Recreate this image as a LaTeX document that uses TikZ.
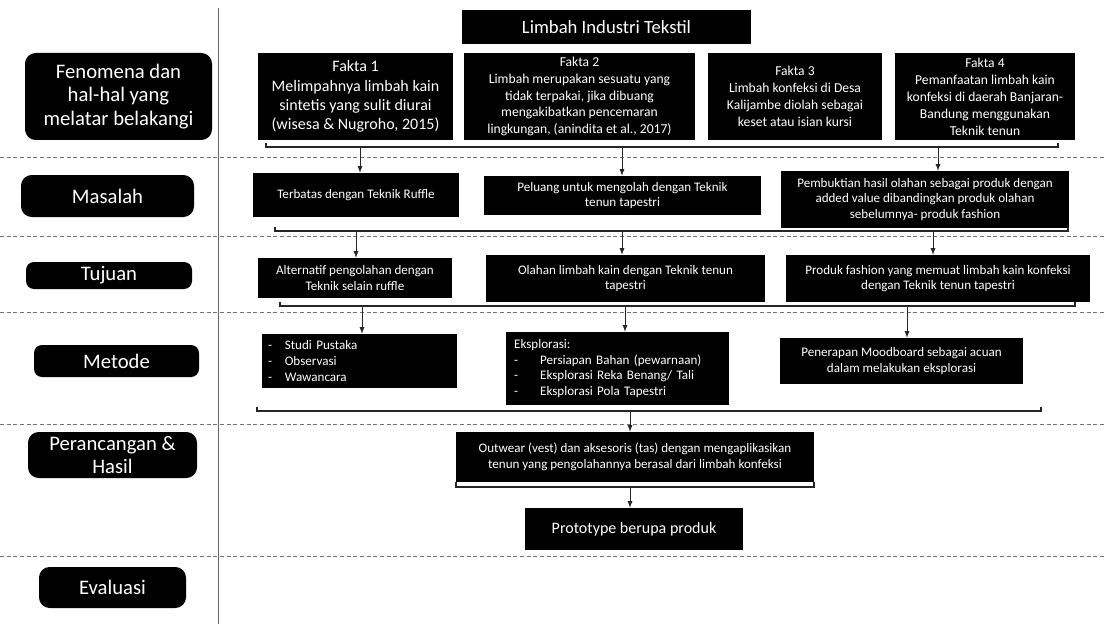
\documentclass[tikz,border=0pt]{standalone}
\usepackage{fontspec}
\setmainfont{Carlito}
\usetikzlibrary{calc}

\tikzset{
	kotak/.style={fill=black, text=white, align=center, inner sep=0pt},
	kiri/.style={kotak, rounded corners=8pt, font=\fontsize{15.5}{17.5}\selectfont},
	ukuran/.style 2 args={minimum width=#1*0.75pt, minimum height=#2*0.75pt},
	isi/.style={font=\fontsize{9.8}{11.8}\selectfont},
	fakta/.style={font=\fontsize{10.2}{12.7}\selectfont},
	putus/.style={black!55, dash pattern=on 3pt off 2pt, line width=0.5pt},
	kurung/.style={line width=1.1pt, black!85},
	panah/.style={-latex, line width=0.7pt, black!85},
}
\newcommand{\strip}[1]{\makebox[#1][l]{-}}

\begin{document}
\begin{tikzpicture}[x=0.75pt, y=-0.75pt]
			%%%%% START %%%%%
			\useasboundingbox (0,0) rectangle (1105,624);
			
			\draw[black!60, line width=0.7pt] (218, 8) -- (218, 624);
			\foreach \yy in {157, 236, 312, 424, 556}
				\draw[putus] (0, \yy) -- (1105, \yy);
			
			% kolom kiri
			\node[kiri, ukuran={187}{87}] (fen) at (118.5, 96.5) {Fenomena dan\\hal-hal yang\\melatar belakangi};
			\node[kiri, ukuran={173}{42}] (mas) at (107.5, 196) {Masalah};
			\node[kiri, ukuran={166}{27}, rounded corners=6pt] (tuj) at (109, 275.5) {Tujuan};
			\node[kiri, ukuran={165}{32}, rounded corners=6pt] (met) at (116.5, 361) {Metode};
			\node[kiri, ukuran={169}{46}] (per) at (112.5, 455) {Perancangan \&\\Hasil};
			\node[kiri, ukuran={147}{41}] (eva) at (112.5, 587.5) {Evaluasi};
			
			% fenomena
			\node[kotak, ukuran={289}{34}, font=\fontsize{14}{16}\selectfont] (judul) at (606.5, 27) {Limbah Industri Tekstil};
			\node[kotak, ukuran={195}{87}, font=\fontsize{12}{14.4}\selectfont] (f1) at (355.5, 96.5) {Fakta 1\\Melimpahnya limbah kain\\sintetis yang sulit diurai\\(wisesa \& Nugroho, 2015)};
			\node[kotak, fakta, ukuran={231}{87}] (f2) at (579.5, 96.5) {Fakta 2\\Limbah merupakan sesuatu yang\\tidak terpakai, jika dibuang\\mengakibatkan pencemaran\\lingkungan, (anindita et al., 2017)};
			\node[kotak, fakta, ukuran={174}{87}] (f3) at (795, 96.5) {Fakta 3\\Limbah konfeksi di Desa\\Kalijambe diolah sebagai\\keset atau isian kursi};
			\node[kotak, fakta, ukuran={180}{87}] (f4) at (985, 96.5) {Fakta 4\\Pemanfaatan limbah kain\\konfeksi di daerah Banjaran-\\Bandung menggunakan\\Teknik tenun};
			
			\coordinate (k1a) at (266, 147);
			\coordinate (k1b) at (1058, 147);
			\draw[kurung] ($(k1a)+(0,-4)$) -- (k1a) -- (k1b) -- ++(0,-4);
			
			% masalah
			\node[kotak, isi, ukuran={206}{44}] (m1) at (356, 195) {Terbatas dengan Teknik Ruffle};
			\node[kotak, isi, ukuran={277}{39}] (m2) at (622.5, 195.5) {Peluang untuk mengolah dengan Teknik\\tenun tapestri};
			\node[kotak, isi, ukuran={288}{57}] (m3) at (925, 199.5) {Pembuktian hasil olahan sebagai produk dengan\\added value dibandingkan produk olahan\\sebelumnya- produk fashion};
			
			\coordinate (p1) at (360, 147);
			\coordinate (p2) at (622, 147);
			\coordinate (p3) at (938, 147);
			\draw[panah] (p1) -- (p1 |- m1.north);
			\draw[panah] (p2) -- (p2 |- m2.north);
			\draw[panah] (p3) -- (p3 |- m3.north);
			
			\coordinate (k2a) at (275, 231);
			\coordinate (k2b) at (1068, 231);
			\draw[kurung] ($(k2a)+(0,-4)$) -- (k2a) -- (k2b) -- ++(0,-4);
			
			% tujuan
			\node[kotak, isi, ukuran={194}{40}] (t1) at (355, 278) {Alternatif pengolahan dengan\\Teknik selain ruffle};
			\node[kotak, isi, ukuran={279}{47}] (t2) at (625.5, 278.5) {Olahan limbah kain dengan Teknik tenun\\tapestri};
			\node[kotak, isi, ukuran={304}{47}] (t3) at (938, 278.5) {Produk fashion yang memuat limbah kain konfeksi\\dengan Teknik tenun tapestri};
			
			\coordinate (q1) at (356, 231);
			\coordinate (q2) at (622, 231);
			\coordinate (q3) at (933, 231);
			\draw[panah] (q1) -- (q1 |- t1.north);
			\draw[panah] (q2) -- (q2 |- t2.north);
			\draw[panah] (q3) -- (q3 |- t3.north);
			
			\coordinate (k3a) at (280, 306);
			\coordinate (k3b) at (1075, 306);
			\draw[kurung] ($(k3a)+(0,-4)$) -- (k3a) -- (k3b) -- ++(0,-4);
			
			% metode
			\node[kotak, isi, ukuran={195}{54}, align=left, text width=137pt] (me1) at (359.5, 361) {\strip{12.5pt}Studi Pustaka\\\strip{12.5pt}Observasi\\\strip{12.5pt}Wawancara};
			\node[kotak, isi, ukuran={223}{73}, align=left, text width=155pt] (me2) at (617.5, 368.5) {Eksplorasi:\\\strip{19.5pt}Persiapan Bahan (pewarnaan)\\\strip{19.5pt}Eksplorasi Reka Benang/ Tali\\\strip{19.5pt}Eksplorasi Pola Tapestri};
			\node[kotak, isi, ukuran={243}{46}] (me3) at (901.5, 361) {Penerapan Moodboard sebagai acuan\\dalam melakukan eksplorasi};
			
			\coordinate (r1) at (362, 306);
			\coordinate (r2) at (625, 306);
			\coordinate (r3) at (907, 306);
			\draw[panah] (r1) -- (r1 |- me1.north);
			\draw[panah] (r2) -- (r2 |- me2.north);
			\draw[panah] (r3) -- (r3 |- me3.north);
			
			\coordinate (k4a) at (257, 411);
			\coordinate (k4b) at (1041, 411);
			\draw[kurung] ($(k4a)+(0,-4)$) -- (k4a) -- (k4b) -- ++(0,-4);
			
			% perancangan & hasil
			\node[kotak, isi, ukuran={358}{50}] (hasil) at (635, 457) {Outwear (vest) dan aksesoris (tas) dengan mengaplikasikan\\tenun yang pengolahannya berasal dari limbah konfeksi};
			\node[kotak, ukuran={218}{42}, font=\fontsize{12}{14}\selectfont] (proto) at (634, 529) {Prototype berupa produk};
			
			\coordinate (s1) at (630, 411);
			\draw[panah] (s1) -- (s1 |- hasil.north);
			
			\coordinate (k5a) at (456, 487);
			\coordinate (k5b) at (814, 487);
			\draw[kurung] ($(k5a)+(0,-5)$) -- (k5a) -- (k5b) -- ++(0,-5);
			
			\coordinate (s2) at (630, 487);
			\draw[panah] (s2) -- (s2 |- proto.north);
			
			%%%%% END %%%%%
\end{tikzpicture}
\end{document}
